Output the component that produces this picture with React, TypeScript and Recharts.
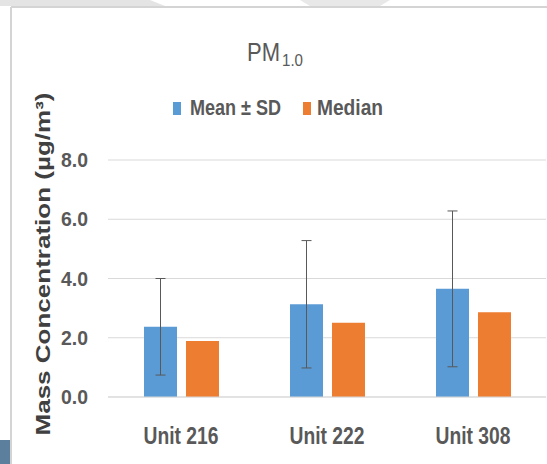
import React from "react";
import {
  BarChart,
  Bar,
  XAxis,
  YAxis,
  CartesianGrid,
  ErrorBar,
} from "recharts";

const units = ["Unit 216", "Unit 222", "Unit 308"];
const meanValues = [2.37, 3.13, 3.65];
const sdValues = [1.63, 2.15, 2.63];
const medianValues = [1.89, 2.51, 2.86];
const yTicks = [0, 2, 4, 6, 8];

const seriesNames = ["Mean ± SD", "Median"];
const seriesColors = ["#5B9BD5", "#ED7D31"];

const data = units.map((unit, i) => ({
  unit,
  mean: meanValues[i],
  sd: sdValues[i],
  median: medianValues[i],
}));

const FONT = "'Liberation Sans', Arial, sans-serif";
const TEXT = "#595959";

const XTick = (props: any) => {
  const { x, y, payload } = props;
  return (
    <text
      x={x}
      y={y + 47}
      textAnchor="middle"
      fontFamily={FONT}
      fontWeight="bold"
      fontSize={23}
      fill={TEXT}
      textLength={75}
      lengthAdjust="spacingAndGlyphs"
    >
      {payload.value}
    </text>
  );
};

const YTick = (props: any) => {
  const { x, y, payload } = props;
  return (
    <text
      x={x}
      y={y + 7}
      textAnchor="end"
      fontFamily={FONT}
      fontWeight="bold"
      fontSize={20}
      fill={TEXT}
      textLength={27}
      lengthAdjust="spacingAndGlyphs"
    >
      {Number(payload.value).toFixed(1)}
    </text>
  );
};

const App = () => {
  return (
    <div
      style={{
        position: "absolute",
        left: 0,
        top: 0,
        width: 547,
        height: 464,
        background: "#fff",
        overflow: "hidden",
      }}
    >
      <BarChart
        width={547}
        height={464}
        data={data}
        margin={{ top: 160, right: 1, bottom: 0, left: 0 }}
        barSize={33}
        barGap={9}
      >
        <CartesianGrid vertical={false} stroke="#d9d9d9" />
        <XAxis
          dataKey="unit"
          height={67}
          tickSize={0}
          tickMargin={0}
          axisLine={{ stroke: "#d9d9d9" }}
          tickLine={false}
          tick={<XTick />}
        />
        <YAxis
          width={108}
          domain={[0, 8]}
          ticks={yTicks}
          tickSize={0}
          tickMargin={20}
          axisLine={false}
          tickLine={false}
          tick={<YTick />}
        />
        <Bar
          dataKey="mean"
          name={seriesNames[0]}
          fill={seriesColors[0]}
          isAnimationActive={false}
        >
          <ErrorBar
            dataKey="sd"
            width={5}
            stroke="#595959"
            strokeWidth={1}
            direction="y"
          />
        </Bar>
        <Bar
          dataKey="median"
          name={seriesNames[1]}
          fill={seriesColors[1]}
          isAnimationActive={false}
        />
      </BarChart>

      <svg
        width={547}
        height={464}
        style={{ position: "absolute", left: 0, top: 0, pointerEvents: "none" }}
      >
        {/* slide frame */}
        <polygon points="0,0 150,0 165,6 0,6" fill="#e4e4e4" />
        <polygon points="300,0 390,0 380,6 310,6" fill="#e8e8e8" />
        <line x1={11} y1={7} x2={547} y2={7} stroke="#d4d4d4" strokeWidth={2} />
        <line x1={11} y1={7} x2={11} y2={464} stroke="#d4d4d4" strokeWidth={2} />
        <rect x={0} y={440} width={10} height={24} fill="#5d7f9e" />

        {/* title */}
        <text
          x={280}
          y={61}
          textAnchor="end"
          fontFamily={FONT}
          fontSize={25}
          fill={TEXT}
          textLength={33}
          lengthAdjust="spacingAndGlyphs"
        >
          PM
        </text>
        <text
          x={282}
          y={66}
          fontFamily={FONT}
          fontSize={17}
          fill={TEXT}
          textLength={21}
          lengthAdjust="spacingAndGlyphs"
        >
          1.0
        </text>

        {/* legend */}
        <rect x={173} y={102} width={8} height={13} fill={seriesColors[0]} />
        <text
          x={190}
          y={115}
          fontFamily={FONT}
          fontWeight="bold"
          fontSize={22}
          fill={TEXT}
          textLength={91}
          lengthAdjust="spacingAndGlyphs"
        >
          {seriesNames[0]}
        </text>
        <rect x={303} y={102} width={8} height={13} fill={seriesColors[1]} />
        <text
          x={317}
          y={115}
          fontFamily={FONT}
          fontWeight="bold"
          fontSize={22}
          fill={TEXT}
          textLength={66}
          lengthAdjust="spacingAndGlyphs"
        >
          {seriesNames[1]}
        </text>

        {/* y axis title */}
        <text
          transform="translate(50,264) rotate(-90)"
          textAnchor="middle"
          fontFamily={FONT}
          fontWeight="bold"
          fontSize={21}
          fill="#404040"
          textLength={343}
          lengthAdjust="spacingAndGlyphs"
        >
          Mass Concentration (µg/m³)
        </text>
      </svg>
    </div>
  );
};

export default App;
